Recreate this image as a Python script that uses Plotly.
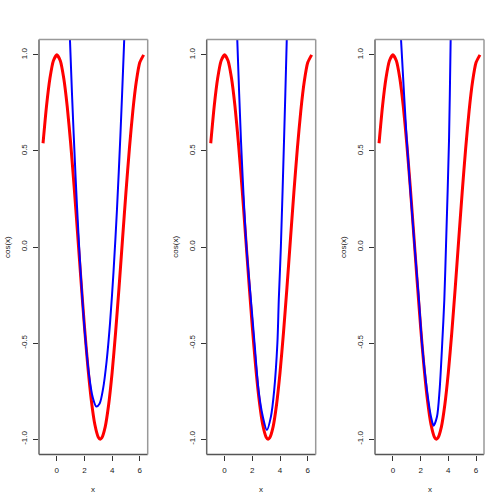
import plotly.graph_objects as go

# red curve: cos(x), x from -1 to 2*pi
red_x = [-1.0, -0.75, -0.5, -0.25, 0.0, 0.25, 0.5, 0.75, 1.0, 1.25, 1.5, 1.75, 2.0, 2.25,
         2.5, 2.75, 3.0, 3.14, 3.25, 3.5, 3.75, 4.0, 4.25, 4.5, 4.75, 5.0, 5.25, 5.5, 5.75, 6.0, 6.283]
red_y = [0.540, 0.732, 0.878, 0.969, 1.0, 0.969, 0.878, 0.732, 0.540, 0.315, 0.071, -0.178, -0.416, -0.628,
         -0.801, -0.924, -0.990, -1.0, -0.994, -0.936, -0.820, -0.654, -0.446, -0.211, 0.038, 0.284, 0.512, 0.709, 0.861, 0.960, 1.0]

# blue approximations, one per panel
blue1_x = [0.85, 1.1, 1.35, 1.6, 1.85, 2.1, 2.35, 2.6, 2.85, 3.1, 3.35, 3.6, 3.85, 4.1, 4.35, 4.6, 4.85, 4.95]
blue1_y = [1.268, 0.790, 0.373, 0.017, -0.276, -0.507, -0.677, -0.784, -0.830, -0.814, -0.736, -0.596,
           -0.395, -0.131, 0.194, 0.582, 1.031, 1.23]

blue2_x = [0.85, 0.91, 1.18, 1.58, 1.90, 2.16, 2.45, 2.76, 3.05, 3.34, 3.58, 3.81, 3.91, 4.06, 4.29, 4.49, 4.52]
blue2_y = [1.20, 1.089, 0.557, 0.0, -0.276, -0.5, -0.745, -0.884, -0.953, -0.884, -0.745, -0.5, -0.276, 0.0, 0.557, 1.089, 1.2]

blue3_x = [0.50, 0.58, 1.0, 1.57, 1.88, 2.10, 2.46, 2.75, 2.94, 3.18, 3.37, 3.56, 3.71, 3.83, 4.05, 4.17, 4.20]
blue3_y = [1.19, 1.089, 0.557, 0.0, -0.276, -0.5, -0.745, -0.884, -0.930, -0.884, -0.745, -0.5, -0.276, 0.0, 0.557, 1.089, 1.22]

x_ticks = [0, 2, 4, 6]
y_ticks = [-1.0, -0.5, 0.0, 0.5, 1.0]
y_ticklabels = ["-1.0", "-0.5", "0.0", "0.5", "1.0"]

blues = [(blue1_x, blue1_y), (blue2_x, blue2_y), (blue3_x, blue3_y)]

W = 504


def fx(px):
    return px / W


def fy(py):
    return 1 - py / W


xdoms = [(fx(39), fx(147.7)), (fx(206.7), fx(315.7)), (fx(375), fx(484))]
ydom = (fy(454.5), fy(39.5))

FONT = "Liberation Sans, Arial, sans-serif"
TXT = "#1a1a1a"
fig = go.Figure()
shapes = []
annotations = []
layout = {}
for i, (bx, by) in enumerate(blues):
    n = "" if i == 0 else str(i + 1)
    xa, ya = "x" + n, "y" + n
    fig.add_trace(go.Scatter(x=red_x, y=red_y, mode="lines", xaxis=xa, yaxis=ya,
                             line=dict(color="#FF0000", width=3, shape="spline", smoothing=0.6),
                             showlegend=False, hoverinfo="skip"))
    fig.add_trace(go.Scatter(x=bx, y=by, mode="lines", xaxis=xa, yaxis=ya,
                             line=dict(color="#0000FF", width=2, shape="spline", smoothing=0.8),
                             showlegend=False, hoverinfo="skip"))
    layout["xaxis" + n] = dict(domain=list(xdoms[i]), range=[-1.2913, 6.5745], anchor=ya,
                               tickvals=x_ticks, ticks="outside", ticklen=5, tickcolor="#333",
                               ticklabelstandoff=3,
                               showgrid=False, zeroline=False, showline=False, automargin=False,
                               tickfont=dict(family=FONT, size=8, color=TXT))
    layout["yaxis" + n] = dict(domain=list(ydom), range=[-1.08, 1.08], anchor=xa,
                               tickvals=y_ticks, ticktext=y_ticklabels, ticks="outside", ticklen=5,
                               tickcolor="#333", tickangle=-90, automargin=False,
                               ticklabelstandoff=3,
                               showgrid=False, zeroline=False, showline=False,
                               tickfont=dict(family=FONT, size=8, color=TXT))
    xd = xa + " domain"
    yd = ya + " domain"
    # box: left/bottom darker, top/right lighter
    shapes.append(dict(type="line", xref=xd, yref=yd, x0=0, x1=1, y0=0, y1=0, line=dict(color="#555", width=1.5)))
    shapes.append(dict(type="line", xref=xd, yref=yd, x0=0, x1=0, y0=0, y1=1, line=dict(color="#666", width=1.5)))
    shapes.append(dict(type="line", xref=xd, yref=yd, x0=0, x1=1, y0=1, y1=1, line=dict(color="#999", width=1.5)))
    shapes.append(dict(type="line", xref=xd, yref=yd, x0=1, x1=1, y0=0, y1=1, line=dict(color="#999", width=1.5)))
    cx = (xdoms[i][0] + xdoms[i][1]) / 2
    annotations.append(dict(text="x", xref="paper", yref="paper", x=cx, y=fy(489),
                            showarrow=False, font=dict(family=FONT, size=8, color=TXT),
                            xanchor="center", yanchor="middle"))
    annotations.append(dict(text="cos(x)", xref="paper", yref="paper", x=xdoms[i][0] - 32 / W,
                            y=(ydom[0] + ydom[1]) / 2, textangle=-90,
                            showarrow=False, font=dict(family=FONT, size=8, color=TXT),
                            xanchor="center", yanchor="middle"))

fig.update_layout(width=W, height=W, margin=dict(l=0, r=0, t=0, b=0),
                  paper_bgcolor="white", plot_bgcolor="white",
                  shapes=shapes, annotations=annotations, **layout)
fig.write_html("out.html", config={"displayModeBar": False},
               post_script="document.body.style.margin='0';document.body.style.overflow='hidden';")
